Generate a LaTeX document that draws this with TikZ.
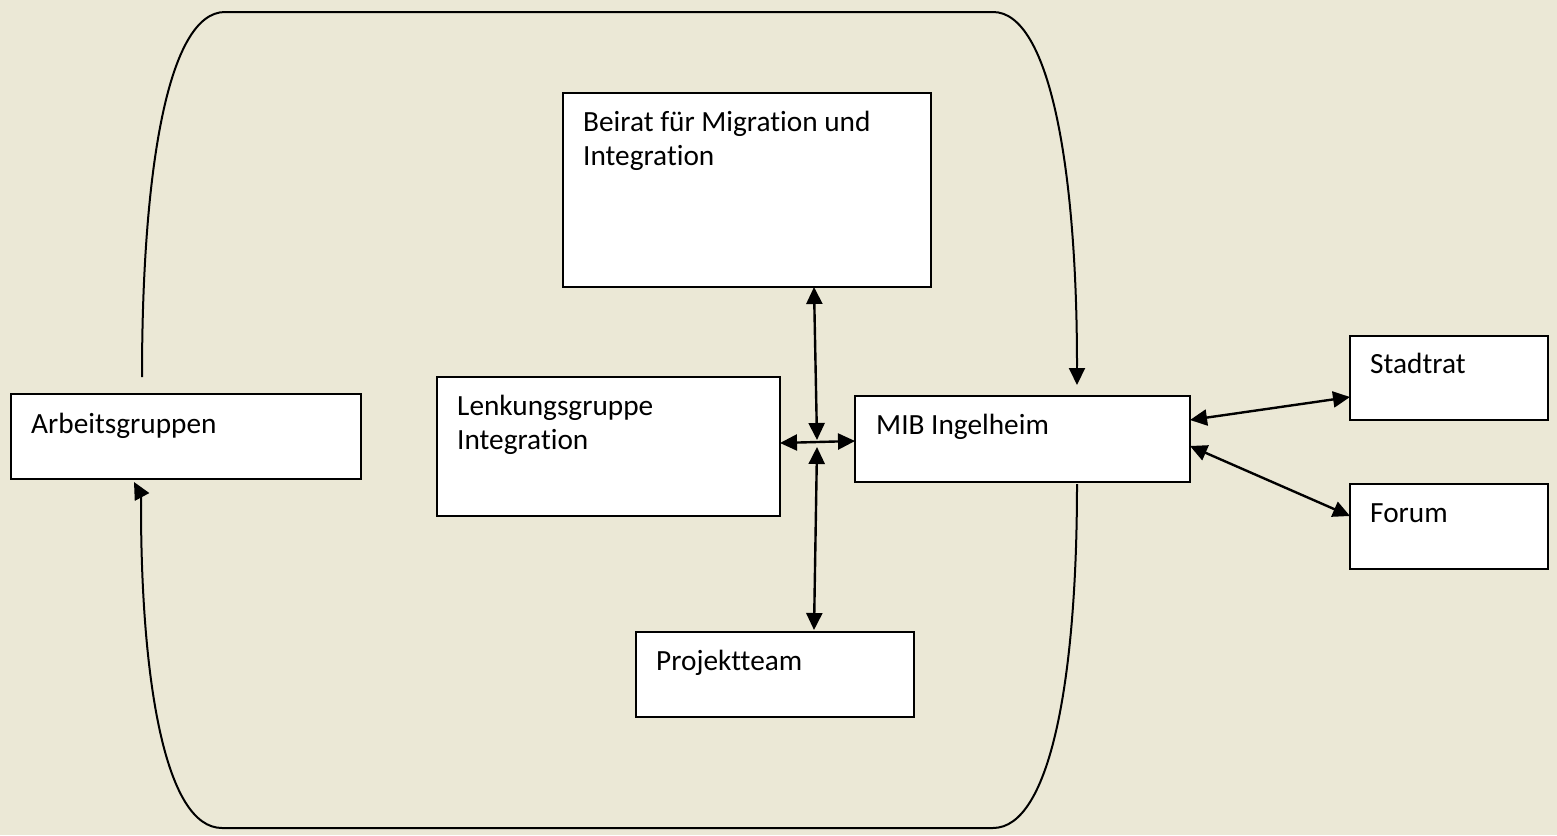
\documentclass[tikz,border=0pt]{standalone}
\usepackage{fontspec}
\setmainfont{Carlito}[Ligatures={NoCommon}]
\usetikzlibrary{arrows.meta}
\definecolor{bg}{RGB}{235,232,214}
\begin{document}
\begin{tikzpicture}[x=1pt,y=-1pt,
  box/.style={draw=black,line width=2pt,fill=white,anchor=north west,inner sep=0pt,outer sep=0pt},
  lbl/.style={anchor=base west,align=left,inner sep=0pt,font=\fontsize{29.3}{34}\selectfont},
  link/.style={line width=2.4pt,{Triangle[length=17pt,width=16pt]}-{Triangle[length=17pt,width=16pt]}},
  loop/.style={line width=2pt},
  tip/.style={line width=2pt,-{Triangle[length=17pt,width=16pt]}}]
\fill[bg] (0,0) rectangle (1557,835);
\useasboundingbox (0,0) rectangle (1557,835);
% boxes
\node[box,minimum width=368pt,minimum height=194pt] (beirat) at (563,93) {};
\node[box,minimum width=343pt,minimum height=139pt] (lenk) at (437,377) {};
\node[box,minimum width=335pt,minimum height=86pt] (mib) at (855,396) {};
\node[box,minimum width=350pt,minimum height=85pt] (arb) at (11,394) {};
\node[box,minimum width=278pt,minimum height=85pt] (proj) at (636,632) {};
\node[box,minimum width=198pt,minimum height=84pt] (stadt) at (1350,336) {};
\node[box,minimum width=198pt,minimum height=85pt] (forum) at (1350,484) {};
% labels (base anchor = baseline of last line)
\node[lbl] (tbeirat) at ([xshift=20pt,yshift=-72pt]beirat.north west) {Beirat für Migration und\\Integration};
\node[lbl] (tlenk) at ([xshift=20pt,yshift=-72pt]lenk.north west) {Lenkungsgruppe\\Integration};
\node[lbl] (tmib) at ([xshift=21pt,yshift=-38pt]mib.north west) {MIB Ingelheim};
\node[lbl] (tarb) at ([xshift=20pt,yshift=-39pt]arb.north west) {Arbeitsgruppen};
\node[lbl] (tproj) at ([xshift=20pt,yshift=-38pt]proj.north west) {Projektteam};
\node[lbl] (tstadt) at ([xshift=20pt,yshift=-37pt]stadt.north west) {Stadtrat};
\node[lbl] (tforum) at ([xshift=20pt,yshift=-38pt]forum.north west) {Forum};
% centre connectors
\coordinate (cup) at (817,440);
\coordinate (cdown) at (817,447);
\coordinate (bb) at (814,287);
\coordinate (pt) at (814,630);
\coordinate (ll) at (780,443);
\coordinate (mm) at (855,441);
\draw[link] (bb) -- (cup);
\draw[link] (ll) -- (mm);
\draw[link] (cdown) -- (pt);
% right connectors
\coordinate (m1) at (1190,420);
\coordinate (s1) at (1350,397);
\coordinate (m2) at (1190,446);
\coordinate (f1) at (1350,516);
\draw[link] (m1) -- (s1);
\draw[link] (m2) -- (f1);
% outer loop
\coordinate (tl) at (225,12);
\coordinate (tr) at (993,12);
\coordinate (bl) at (222,828);
\coordinate (br) at (993,828);
\coordinate (arbtop) at (142,377);
\coordinate (arbbot) at (134,482);
\coordinate (mibtop) at (1077,385);
\coordinate (mibbot) at (1077,484);
\coordinate (mibtopa) at (1077,366);
\coordinate (arbbota) at (141,505);
\draw[loop] (arbtop) .. controls (142,170) and (168,12) .. (tl) -- (tr)
  .. controls (1050,12) and (1077,170) .. (mibtopa);
\draw[tip] (mibtopa) -- (mibtop);
\draw[loop] (mibbot) .. controls (1077,680) and (1050,828) .. (br) -- (bl)
  .. controls (165,828) and (141,680) .. (arbbota);
\draw[tip] (arbbota) .. controls (141,495) .. (arbbot);
\end{tikzpicture}
\end{document}
